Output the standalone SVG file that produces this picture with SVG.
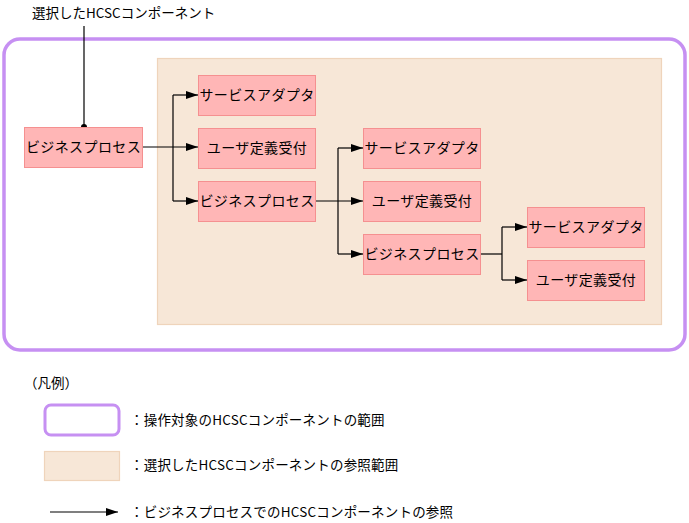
<svg xmlns="http://www.w3.org/2000/svg" width="689" height="523" viewBox="0 0 689 523">
<style>
text{font-family:"Noto Sans CJK JP","Noto Sans",sans-serif;font-size:13.5px;fill:#000}
.node rect{fill:#ffb6b6;stroke:#f59090;stroke-width:1}
.node text{text-anchor:middle;letter-spacing:0.4px;font-size:14px}
.scope{fill:#fff;stroke:#c690f2;stroke-width:3.5}
.ref{fill:#f7e7d7;stroke:#efd4bb;stroke-width:1.2}
.conn{fill:none;stroke:#000;stroke-width:1.2}
</style>
<defs>
<marker id="ah" viewBox="0 0 12 8" refX="12" refY="4" markerWidth="12" markerHeight="8" markerUnits="userSpaceOnUse" orient="auto">
<path d="M0,0 L12,4 L0,8 Z" fill="#000"/>
</marker>
</defs>
<rect id="scope" class="scope" x="4" y="39" width="681" height="311" rx="16"/>
<rect id="refarea" class="ref" x="157.5" y="58.5" width="504" height="266"/>
<g id="label-selected">
<text x="32" y="18">選択したHCSCコンポーネント</text>
<line x1="84" y1="26" x2="84" y2="127" stroke="#000" stroke-width="1.2"/>
<circle cx="84" cy="127" r="3" fill="#000"/>
</g>
<g id="connectors">
<path class="conn" d="M143,147 H198" marker-end="url(#ah)"/>
<path class="conn" d="M173,95 V201"/>
<path class="conn" d="M173,95 H198" marker-end="url(#ah)"/>
<path class="conn" d="M173,201 H198" marker-end="url(#ah)"/>
<path class="conn" d="M316,201 H363" marker-end="url(#ah)"/>
<path class="conn" d="M338,148 V254"/>
<path class="conn" d="M338,148 H363" marker-end="url(#ah)"/>
<path class="conn" d="M338,254 H363" marker-end="url(#ah)"/>
<path class="conn" d="M481,254 H502"/>
<path class="conn" d="M502,227 V280"/>
<path class="conn" d="M502,227 H527" marker-end="url(#ah)"/>
<path class="conn" d="M502,280 H527" marker-end="url(#ah)"/>
</g>
<g id="bp0" class="node"><rect x="24.5" y="127.5" width="118" height="40"/><text x="83.5" y="152">ビジネスプロセス</text></g>
<g id="sa1" class="node"><rect x="198.5" y="75.5" width="117" height="40"/><text x="257" y="100">サービスアダプタ</text></g>
<g id="ud1" class="node"><rect x="198.5" y="128.5" width="117" height="40"/><text x="257" y="153">ユーザ定義受付</text></g>
<g id="bp1" class="node"><rect x="198.5" y="181.5" width="117" height="40"/><text x="257" y="206">ビジネスプロセス</text></g>
<g id="sa2" class="node"><rect x="363.5" y="128.5" width="117" height="40"/><text x="422" y="153">サービスアダプタ</text></g>
<g id="ud2" class="node"><rect x="363.5" y="181.5" width="117" height="40"/><text x="422" y="206">ユーザ定義受付</text></g>
<g id="bp2" class="node"><rect x="363.5" y="234.5" width="117" height="40"/><text x="422" y="259">ビジネスプロセス</text></g>
<g id="sa3" class="node"><rect x="527.5" y="207.5" width="117" height="40"/><text x="586" y="232">サービスアダプタ</text></g>
<g id="ud3" class="node"><rect x="527.5" y="260.5" width="117" height="40"/><text x="586" y="285">ユーザ定義受付</text></g>
<g id="legend">
<text x="24" y="388">（凡例）</text>
<rect class="scope" x="45" y="405" width="74" height="30" rx="6" style="stroke-width:3"/>
<text x="130" y="425" style="letter-spacing:0.2px">：操作対象のHCSCコンポーネントの範囲</text>
<rect class="ref" x="44.5" y="451.5" width="75" height="29"/>
<text x="130" y="470" style="letter-spacing:0.2px">：選択したHCSCコンポーネントの参照範囲</text>
<path class="conn" d="M50,512 H118" marker-end="url(#ah)"/>
<text x="130" y="517" style="letter-spacing:0.2px">：ビジネスプロセスでのHCSCコンポーネントの参照</text>
</g>
</svg>
